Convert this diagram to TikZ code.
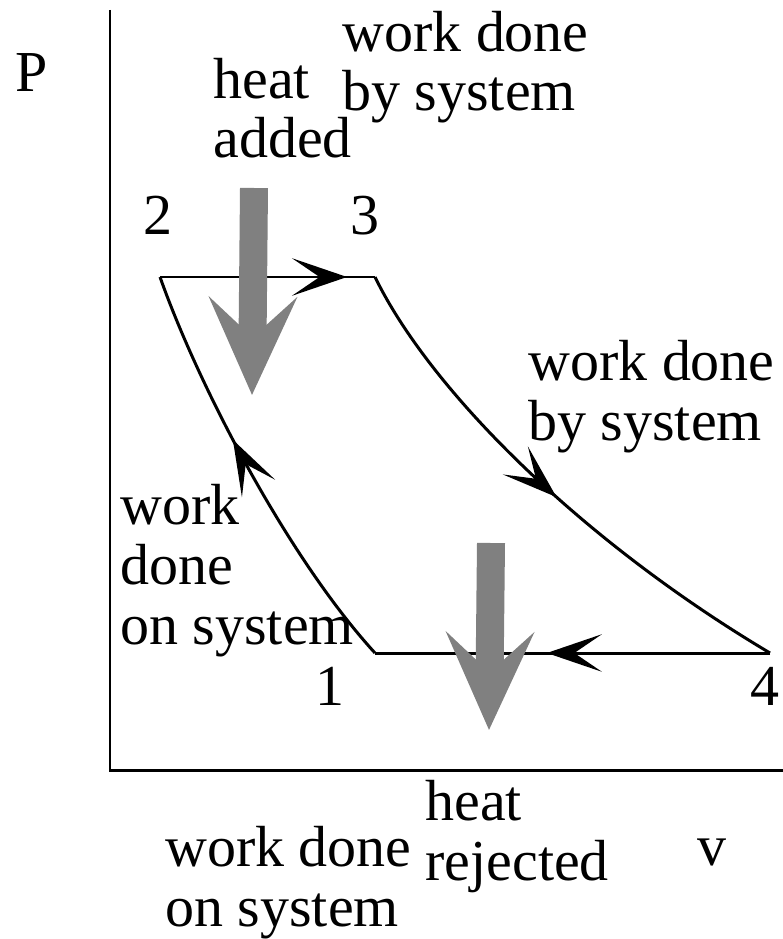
\documentclass[tikz,border=0pt]{standalone}
\usepackage{fontspec}
\setmainfont{Liberation Serif}
\usetikzlibrary{arrows.meta}
\usetikzlibrary{decorations.markings}

\tikzset{
    lbl/.style={anchor=base west, inner sep=0pt, align=left, font=\fontsize{33}{34}\selectfont},
    cycle line/.style={line width=1.7pt, line join=round},
    midarrow/.style={postaction={decorate, decoration={markings,
        mark=at position #1 with {\arrow{Stealth[length=1.1cm, width=0.75cm, inset=0.55cm]}}}}},
    heatflow/.style={draw=gray, line width=0.56cm, -{Stealth[length=1.95cm, width=1.75cm, inset=0.8cm]}}
}

\begin{document}
\begin{tikzpicture}[x=0.02cm, y=-0.02cm]
        \useasboundingbox (0,0) rectangle (783,939);

        % Axes
        \coordinate (origin) at (110,770);
        \coordinate (ytop) at (110,10);
        \coordinate (xend) at (783,770);
        \draw [line width=1.7pt] (ytop) -- (origin) -- (xend);
        \node [lbl] (plabel) at (15,92) {P};
        \node [lbl] (vlabel) at (697,865) {v};

        % State points of the cycle
        \coordinate (p1) at (375,653);
        \coordinate (p2) at (160,277);
        \coordinate (p3) at (375,277);
        \coordinate (p4) at (770,653);
        \foreach \i/\x/\y in {1/315/705, 2/143/235, 3/350/235, 4/750/705} {
            \node [lbl] (num\i) at (\x,\y) {\i};
        }

        % Processes
        \draw [cycle line, midarrow=0.59] (p1) .. controls (290,560) and (200,390) .. (p2);
        \draw [cycle line, midarrow=0.87] (p2) -- (p3);
        \draw [cycle line, midarrow=0.52] (p3) .. controls (430,390) and (580,540) .. (p4);
        \draw [cycle line, midarrow=0.565] (p4) -- (p1);

        % Heat in and out
        \coordinate (qin top) at (254,188);
        \coordinate (qin tip) at (252,395);
        \coordinate (qout top) at (491,543);
        \coordinate (qout tip) at (489,730);
        \draw [heatflow] (qin top) -- (qin tip);
        \draw [heatflow] (qout top) -- (qout tip);

        % Descriptions (anchored on the last line)
        \node [lbl] (wby23) at (342,111) {work done\\by system};
        \node [lbl] (qadd) at (213,158) {heat\\added};
        \node [lbl] (wby34) at (528,440) {work done\\by system};
        \node [lbl] (won12) at (120,644) {work\\done\\on system};
        \node [lbl] (qrej) at (425,880) {heat\\rejected};
        \node [lbl] (won41) at (165,926) {work done\\on system};
\end{tikzpicture}
\end{document}
